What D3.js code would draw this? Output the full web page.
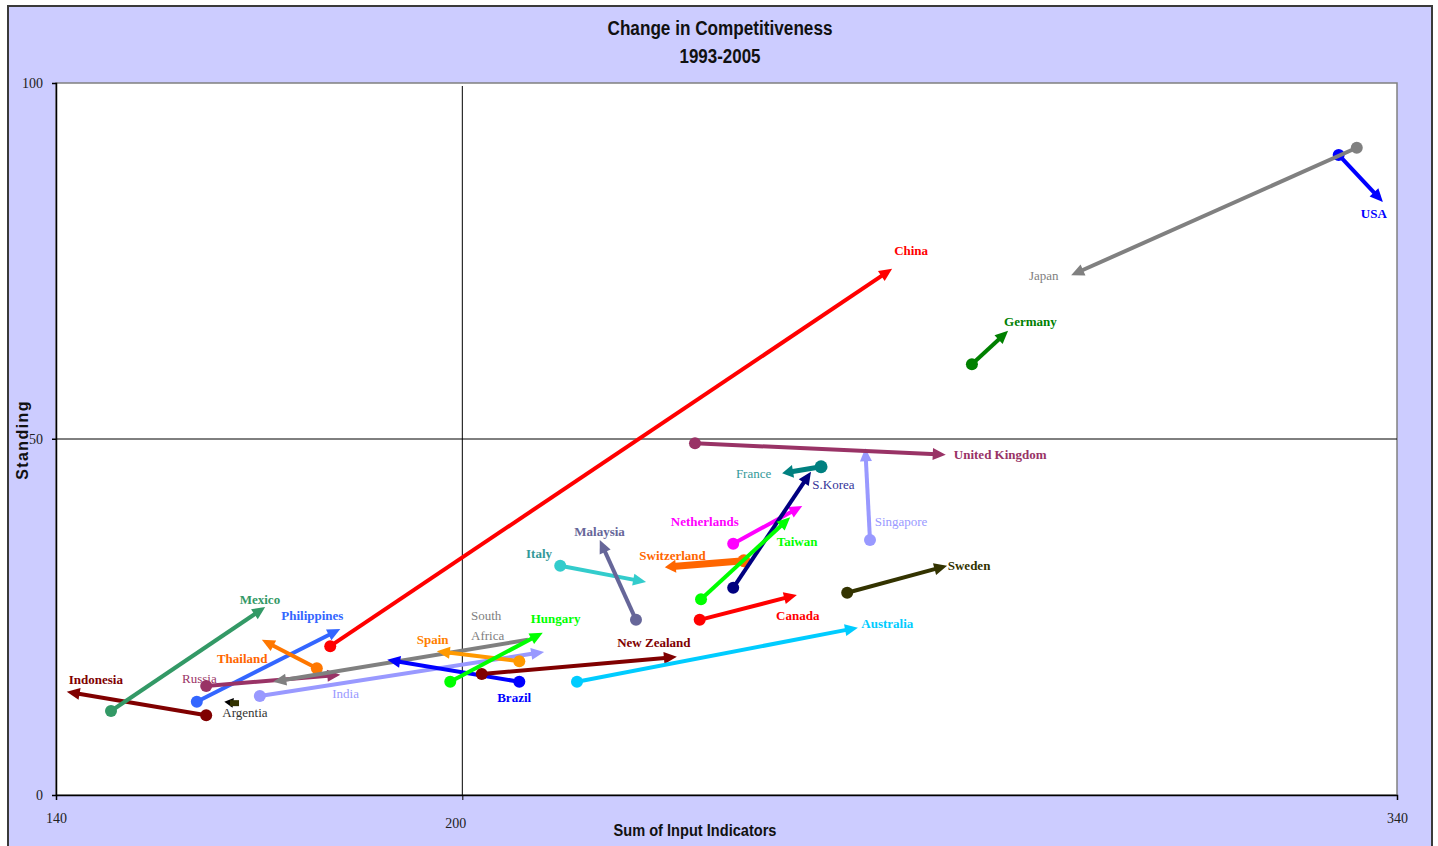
<!DOCTYPE html>
<html><head><meta charset="utf-8">
<script src="https://cdn.jsdelivr.net/npm/d3@7"></script>
<style>html,body{margin:0;padding:0;background:#fff;} svg{display:block}</style>
</head><body><svg id="chart" width="1438" height="846"></svg>
<script>
// ---- data (drawing order, back to front) ----
const countries = ["Indonesia","Mexico","Philippines","Russia","Thailand","India","South Africa","Argentina","China","Brazil","Spain","Hungary","New Zealand","Australia","Italy","Malaysia","Switzerland","Netherlands","Canada","S.Korea","Taiwan","France","Singapore","United Kingdom","Sweden","Germany","USA","Japan"];
const labels = ["Indonesia","Mexico","Philippines","Russia","Thailand","India","South|Africa","Argentia","China","Brazil","Spain","Hungary","New Zealand","Australia","Italy","Malaysia","Switzerland","Netherlands","Canada","S.Korea","Taiwan","France","Singapore","United Kingdom","Sweden","Germany","USA","Japan"];
const input1993 = [162.4,148.2,161.0,162.4,178.9,170.4,210.4,166.7,180.9,209.1,209.1,198.8,203.5,217.7,215.2,226.5,242.6,241.0,236.0,241.0,236.2,254.1,261.4,235.3,258.0,276.6,331.3,334.0];
const standing1993 = [11.2,11.8,13.1,15.3,17.8,13.9,21.8,12.9,20.9,15.9,18.8,15.9,17.0,15.9,32.2,24.6,32.9,35.3,24.6,29.1,27.5,46.1,35.8,49.4,28.4,60.5,89.9,90.9];
const input2005 = [141.6,171.2,182.4,182.4,170.7,212.8,172.4,165.1,264.7,189.4,196.8,212.6,232.6,259.6,228.0,221.1,230.8,251.3,250.5,252.6,249.5,248.3,260.7,272.7,272.9,282.0,337.9,291.4];
const standing2005 = [14.5,26.4,23.3,16.9,21.8,20.1,15.9,13.1,73.9,19.0,20.2,22.8,19.4,23.5,29.9,35.8,32.0,40.6,28.1,45.4,39.0,45.2,48.7,47.8,32.2,65.2,83.3,73.0];
// label anchor positions (data units, left edge / baseline)
const labelInput = [141.9,167.4,173.6,158.8,164.0,181.2,201.9,164.8,265.0,205.8,193.8,210.8,223.7,260.1,210.1,217.3,227.0,231.7,247.4,252.8,247.5,241.4,262.1,273.9,273.0,281.4,334.6,285.1];
const labelStanding = [15.6,26.8,24.6,15.7,18.5,13.6,24.6,11.0,75.8,13.1,21.2,24.2,20.8,23.5,33.3,36.4,33.0,37.8,24.6,43.0,35.0,44.5,37.8,47.2,31.6,65.9,81.0,72.3];
const xTickLabels = ["140", "200", "340"];
const xTicks = [140, 200.6, 340];   // divider line as drawn in the original sits slightly right of 200
const yTicks = [0, 50, 100];
const xDivider = 200.6, yDivider = 50;

// ---- styles ----
const lineColors = ["#800000","#339966","#3366FF","#993366","#FF7700","#9999FF","#808080","#000000","#FF0000","#0000FF","#FF9900","#00FF00","#800000","#00CCFF","#33CCCC","#666699","#FF6600","#FF00FF","#FF0000","#000080","#00FF00","#008080","#9999FF","#993366","#333300","#008000","#0000FF","#808080"];
const labelColors = ["#800000","#339966","#3366FF","#993366","#FF6600","#9999FF","#808080","#333333","#FF0000","#0000FF","#FF8000","#00FF00","#800000","#00CCFF","#339999","#666699","#FF6600","#FF00FF","#FF0000","#333399","#00FF00","#339999","#9999FF","#993366","#333300","#008000","#0000FF","#808080"];
const boldLabel = [1,1,1,0,1,0,0,0,1,1,1,1,1,1,1,1,1,1,1,0,1,0,0,1,1,1,1,0];
const widths = {"Switzerland":7,"France":5,"Argentina":3};
const noStartMarker = {"South Africa":true};

const svg = d3.select("#chart");
const W = 1438, H = 846;
const plot = {left:56, right:1397, top:83, bottom:795};

// chart background
svg.append("rect").attr("x",0).attr("y",0).attr("width",W).attr("height",H).attr("fill","#ffffff");
svg.append("rect").attr("x",8).attr("y",6).attr("width",1424).attr("height",860)
  .attr("fill","#CCCCFF").attr("stroke","#3a3a3a").attr("stroke-width",2);

const x = d3.scaleLinear().domain([140,340]).range([plot.left, plot.right]);
const y = d3.scaleLinear().domain([0,100]).range([plot.bottom, plot.top]);

// plot area
svg.append("rect").attr("x",plot.left).attr("y",plot.top)
  .attr("width",plot.right-plot.left).attr("height",plot.bottom-plot.top)
  .attr("fill","#ffffff").attr("stroke","#808080").attr("stroke-width",1.5);

// title
svg.append("text").attr("x",720).attr("y",35).attr("text-anchor","middle")
  .attr("font-family","Liberation Sans, Arial, sans-serif").attr("font-weight","bold").attr("font-size",20)
  .attr("textLength",225).attr("lengthAdjust","spacingAndGlyphs").attr("fill","#111")
  .text("Change in Competitiveness");
svg.append("text").attr("x",720).attr("y",63).attr("text-anchor","middle")
  .attr("font-family","Liberation Sans, Arial, sans-serif").attr("font-weight","bold").attr("font-size",20)
  .attr("textLength",81).attr("lengthAdjust","spacingAndGlyphs").attr("fill","#111")
  .text("1993-2005");

// divider lines
svg.append("line").attr("x1",x(xDivider)).attr("x2",x(xDivider)).attr("y1",plot.top+3).attr("y2",plot.bottom)
  .attr("stroke","#000").attr("stroke-width",1);
svg.append("line").attr("x1",plot.left-4).attr("x2",plot.right).attr("y1",y(yDivider)).attr("y2",y(yDivider))
  .attr("stroke","#000").attr("stroke-width",1);

// axes
const xAxis = d3.axisBottom(x).tickValues(xTicks).tickSize(5).tickFormat((d,i)=>xTickLabels[i]);
const gx = svg.append("g").attr("transform",`translate(0,${plot.bottom})`).call(xAxis);
gx.select(".domain").attr("stroke","#000").attr("stroke-width",1.5);
gx.selectAll(".tick line").attr("stroke","#000");
gx.selectAll(".tick text").attr("font-family","Liberation Serif, Times New Roman, serif").attr("font-size",14)
  .attr("fill","#222").attr("dy", (d,i)=> i===1 ? "1.75em" : "1.45em").attr("dx",(d,i)=> i===1 ? "-7" : "0");

const yAxis = d3.axisLeft(y).tickValues(yTicks).tickSize(4).tickFormat(d3.format("d"));
const gy = svg.append("g").attr("transform",`translate(${plot.left},0)`).call(yAxis);
gy.select(".domain").attr("stroke","#000").attr("stroke-width",1.5);
gy.selectAll(".tick line").attr("stroke","#000");
gy.selectAll(".tick text").attr("font-family","Liberation Serif, Times New Roman, serif").attr("font-size",14)
  .attr("fill","#222").attr("x",-13);

// axis titles
svg.append("text").attr("x",695).attr("y",836).attr("text-anchor","middle")
  .attr("font-family","Liberation Sans, Arial, sans-serif").attr("font-weight","bold").attr("font-size",16)
  .attr("textLength",163).attr("lengthAdjust","spacingAndGlyphs").attr("fill","#111")
  .text("Sum of Input Indicators");
svg.append("text").attr("transform","translate(28,440) rotate(-90)").attr("text-anchor","middle")
  .attr("font-family","Liberation Sans, Arial, sans-serif").attr("font-weight","bold").attr("font-size",16)
  .attr("letter-spacing","1.4px").attr("fill","#111")
  .text("Standing");

// arrows
const gArrows = svg.append("g");
countries.forEach((c,i)=>{
  const x1 = x(input1993[i]), y1 = y(standing1993[i]);
  const x2 = x(input2005[i]), y2 = y(standing2005[i]);
  const w = widths[c] || 4;
  const col = lineColors[i];
  const ang = Math.atan2(y2-y1, x2-x1);
  const hl = c==="Argentina" ? 9 : (w>=5 ? 11 : 13);
  const hw = c==="Argentina" ? 5 : (w>=5 ? 6.5 : 6);
  const cs = Math.cos(ang), sn = Math.sin(ang);
  const bx = x2 - hl*cs, by = y2 - hl*sn;
  const g = gArrows.append("g");
  g.append("line").attr("x1",x1).attr("y1",y1).attr("x2",x2 - (hl*0.7)*cs).attr("y2",y2 - (hl*0.7)*sn)
    .attr("stroke",col).attr("stroke-width",w).attr("stroke-linecap","butt");
  g.append("polygon")
    .attr("points",[[x2,y2],[bx - hw*sn, by + hw*cs],[bx + hw*sn, by - hw*cs]].map(p=>p.join(",")).join(" "))
    .attr("fill",col);
  if(!noStartMarker[c]){
    if(c==="Argentina"){
      g.append("rect").attr("x",x1-5).attr("y",y1-3).attr("width",9).attr("height",6).attr("fill","#333300");
    } else {
      g.append("circle").attr("cx",x1).attr("cy",y1).attr("r", w>=5?6.5:6).attr("fill",col);
    }
  }
});

// labels
const gLabels = svg.append("g");
countries.forEach((c,i)=>{
  const t = gLabels.append("text").attr("x",x(labelInput[i])).attr("y",y(labelStanding[i]))
    .attr("font-family","Liberation Serif, Times New Roman, serif").attr("font-size",13)
    .attr("font-weight", boldLabel[i] ? "bold" : "normal").attr("fill",labelColors[i]);
  const parts = labels[i].split("|");
  parts.forEach((p,k)=>{
    t.append("tspan").attr("x",x(labelInput[i])).attr("dy", k===0?0:20).text(p);
  });
});
</script></body></html>
